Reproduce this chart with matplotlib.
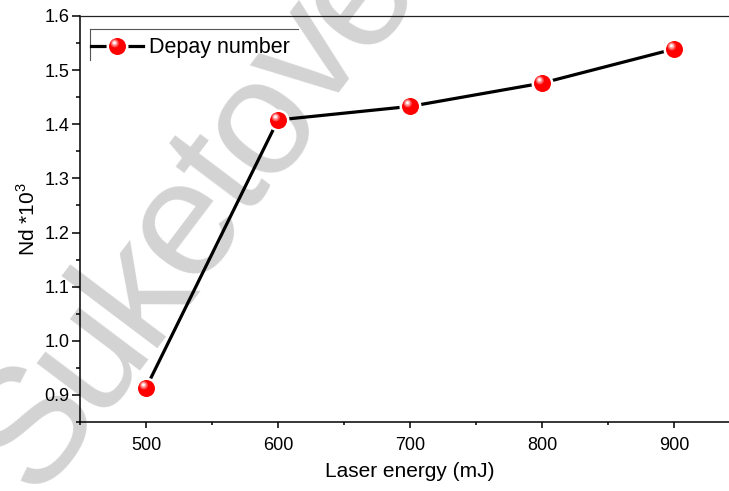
import numpy as np
import matplotlib
matplotlib.use("Agg")
import matplotlib.pyplot as plt
from matplotlib.path import Path
from matplotlib.font_manager import FontProperties
from matplotlib.textpath import TextToPath
from matplotlib.legend_handler import HandlerTuple
from matplotlib.ticker import MultipleLocator

plt.rcParams['font.family'] = ['Liberation Sans', 'DejaVu Sans']
plt.rcParams['mathtext.fontset'] = 'custom'
plt.rcParams['mathtext.rm'] = 'Liberation Sans'

# Depay number vs laser energy
laser_energy = [500, 600, 700, 800, 900]
depay_number = [0.913, 1.408, 1.433, 1.476, 1.539]
series_label = "Depay number"
x_label = "Laser energy (mJ)"
y_label = r"Nd *10$^{\mathregular{3}}$"
watermark = "Suketove"


def spot(cx, cy, r):
    """Circle marker path offset from the marker centre, kept at unit scale."""
    circ = Path.circle((cx, cy), r)
    frame = Path([(-1, -1), (1, 1)], [Path.MOVETO, Path.MOVETO])
    return Path.make_compound_path(frame, circ)


DPI = 100
W, H = 729, 491
fig = plt.figure(figsize=(W / DPI, H / DPI), dpi=DPI, facecolor='white')
ax = fig.add_axes([80 / W, 1 - 422 / H, 660 / W, 406 / H])
ax.patch.set_alpha(0)

# grey watermark behind everything, set letter by letter with tight tracking
wm_em = 166
wm_angle = 53.0
wm_track = 0.916
wm_start = np.array([34.7, 496.5])  # baseline start, pixels from top-left
wm_prop = FontProperties(family='Liberation Sans', size=wm_em * 72 / DPI)
ttp = TextToPath()
d = np.array([np.cos(np.radians(wm_angle)), -np.sin(np.radians(wm_angle))])
for i, ch in enumerate(watermark):
    adv = 0.0
    if i:
        adv = ttp.get_text_width_height_descent(watermark[:i], wm_prop, ismath=False)[0] * DPI / 72
    px, py = wm_start + wm_track * adv * d
    fig.text(px / W, 1 - py / H, ch, rotation=wm_angle, rotation_mode='anchor',
             ha='left', va='baseline', fontproperties=wm_prop, color='#d3d3d3', zorder=-5)

ms = 19.5 * 72 / DPI
mew = 2.5 * 72 / DPI
main, = ax.plot(laser_energy, depay_number, color='black', lw=2.3, marker='o', ms=ms,
                mfc='#ff0000', mec='white', mew=mew, zorder=3)

# specular highlight on each sphere
glints = []
for (cx, cy, r, c) in [(-0.28, 0.33, 0.42, '#ff5050'),
                       (-0.30, 0.36, 0.28, '#ffaaaa'),
                       (-0.31, 0.38, 0.14, '#ffffff')]:
    g, = ax.plot(laser_energy, depay_number, ls='none', marker=spot(cx, cy, r), ms=ms,
                 mfc=c, mec='none', zorder=4)
    glints.append(g)

ax.set_xlim(450, 950)
ax.set_ylim(0.85, 1.6)
ax.xaxis.set_major_locator(MultipleLocator(100))
ax.xaxis.set_minor_locator(MultipleLocator(50))
ax.yaxis.set_major_locator(MultipleLocator(0.1))
ax.yaxis.set_minor_locator(MultipleLocator(0.05))
ax.yaxis.set_major_formatter(plt.FuncFormatter(lambda v, p: f"{v:.1f}"))

ax.tick_params(which='both', direction='out', top=False, right=False, labelsize=13, width=1.1)
ax.tick_params(axis='x', which='major', length=4.5, pad=6)
ax.tick_params(axis='x', which='minor', length=2.5)
ax.tick_params(axis='y', which='major', length=5.5, pad=2)
ax.tick_params(axis='y', which='minor', length=3)

for s in ['left', 'bottom']:
    ax.spines[s].set_linewidth(1.1)
ax.spines['top'].set_linewidth(0.9)
ax.spines['top'].set_color('#222222')

ax.set_xlabel(x_label, fontsize=15, labelpad=6)
ax.set_ylabel(y_label, fontsize=15, labelpad=4)

leg = ax.legend([tuple([main] + glints)], [series_label],
                handler_map={tuple: HandlerTuple(ndivide=1, pad=0)},
                loc='upper left', bbox_to_anchor=(0.016, 0.948), frameon=False, fontsize=15.5,
                handlelength=2.45, handletextpad=0.25, borderpad=0, borderaxespad=0)

# partial legend frame (top and left edges)
ax.plot([0.015, 0.330], [0.968, 0.968], transform=ax.transAxes, color='#555555', lw=0.8, clip_on=False)
ax.plot([0.015, 0.015], [0.968, 0.892], transform=ax.transAxes, color='#555555', lw=0.8, clip_on=False)

fig.savefig("out.png", dpi=DPI)
